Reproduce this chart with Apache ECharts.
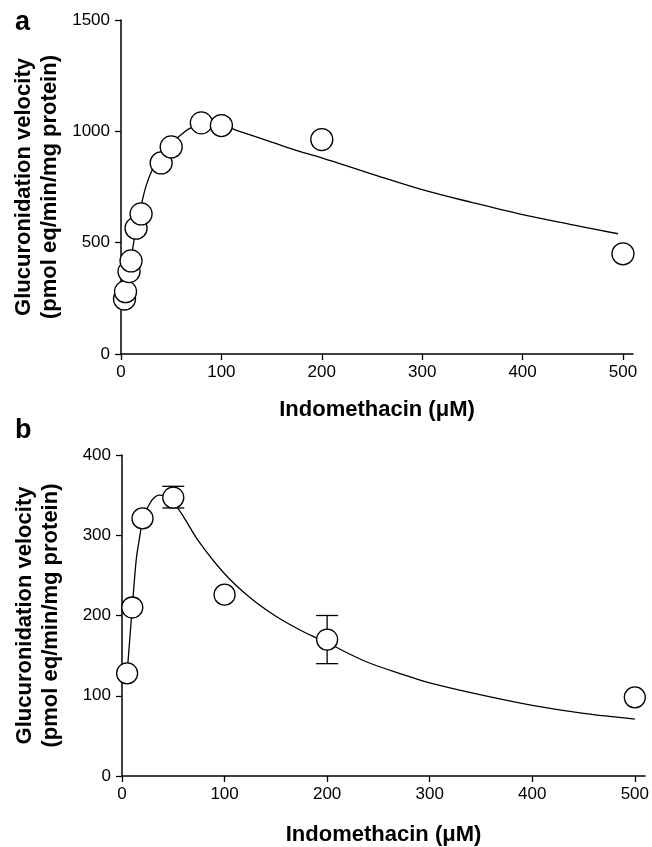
<!DOCTYPE html>
<html>
<head>
<meta charset="utf-8">
<script src="https://cdn.jsdelivr.net/npm/echarts@6/dist/echarts.min.js"></script>
<style>
html,body{margin:0;padding:0;background:#fff;}
#c{width:652px;height:847px;}
</style>
</head>
<body>
<div id="c"></div>
<script>
// ---- data ----
const xTicks = [0, 100, 200, 300, 400, 500];
const aTicksY = [0, 500, 1000, 1500];
const bTicksY = [0, 100, 200, 300, 400];

// panel a: observed points
const aConc = [3.5, 4.5, 8, 10, 15, 20, 40, 50, 80, 100, 200, 500];
const aVel  = [247, 280, 370, 418, 565, 629, 858, 930, 1038, 1026, 963, 450];
// panel a: fitted curve
const aFitX = [3, 5, 8, 10, 12, 15, 20, 25, 31, 40, 50, 58, 68, 80, 90, 100, 118, 150, 178, 200, 250, 300, 350, 400, 450, 495];
const aFitY = [205, 265, 365, 420, 483, 560, 665, 755, 825, 888, 945, 978, 1012, 1030, 1033, 1028, 1000, 952, 910, 881, 808, 738, 680, 626, 580, 540];

// panel b: observed points
const bConc = [5, 10, 20, 50, 100, 200, 500];
const bVel  = [128, 210, 321, 347, 226, 170, 98];
// panel b: error bars
const bErrX    = [50, 200];
const bErrLow  = [334, 140];
const bErrHigh = [361, 200];
// panel b: fitted curve
const bFitX = [5, 10, 14, 17, 20, 23, 26.5, 30, 36, 42, 50, 60, 75, 100, 125, 150, 175, 200, 237, 275, 300, 350, 400, 450, 500];
const bFitY = [128, 210, 271, 296, 318, 330, 338, 345, 350, 349, 341, 323, 292, 252, 222, 199, 181, 166, 143, 126, 116, 101, 88, 78, 71];

const xName = 'Indomethacin (\u03bcM)';
const yName = 'Glucuronidation velocity\n(pmol eq/min/mg protein)';

// ---- chart ----
const FONT = '"Liberation Sans", Arial, Helvetica, sans-serif';
const zip = (xs, ys) => xs.map((x, i) => [x, ys[i]]);
const plain = (v) => String(v);

function xAxis(gridIndex, gap) {
  return {
    type: 'value', gridIndex, min: 0, max: 510,
    axisLine: { show: true, onZero: false, lineStyle: { color: '#000', width: 1.5 } },
    axisTick: { show: true, length: 6, lineStyle: { color: '#000', width: 1.3 }, customValues: xTicks },
    axisLabel: { color: '#000', fontSize: 17, fontFamily: FONT, margin: 10, customValues: xTicks, formatter: plain },
    splitLine: { show: false },
    name: xName, nameLocation: 'middle', nameGap: gap, nameMoveOverlap: false,
    nameTextStyle: { color: '#000', fontSize: 22, fontWeight: 'bold', fontFamily: FONT }
  };
}
function yAxis(gridIndex, max, ticks) {
  return {
    type: 'value', gridIndex, min: 0, max,
    axisLine: { show: true, onZero: false, lineStyle: { color: '#000', width: 1.5 } },
    axisTick: { show: true, length: 6, lineStyle: { color: '#000', width: 1.3 }, customValues: ticks },
    axisLabel: { color: '#000', fontSize: 17, fontFamily: FONT, margin: 11, customValues: ticks, formatter: plain },
    splitLine: { show: false },
    name: yName, nameLocation: 'middle', nameRotate: 90, nameGap: 58, nameMoveOverlap: false,
    nameTextStyle: { color: '#000', fontSize: 22, fontWeight: 'bold', fontFamily: FONT, lineHeight: 26, align: 'center' }
  };
}

const circle = (size) => ({
  type: 'scatter', symbol: 'circle', symbolSize: size,
  itemStyle: { color: '#fff', borderColor: '#000', borderWidth: 1.3, opacity: 1 },
  emphasis: { disabled: true }, z: 5
});

const option = {
  animation: false,
  backgroundColor: '#fff',
  grid: [
    { left: 121, top: 20, width: 512, height: 334 },
    { left: 122, top: 455, width: 526, height: 327 }
  ],
  xAxis: [xAxis(0, 45), xAxis(1, 48)],
  yAxis: [yAxis(0, 1500, aTicksY), yAxis(1, 400, bTicksY)],
  graphic: [
    { type: 'text', left: 15, top: 9, style: { text: 'a', fontSize: 27, fontWeight: 'bold', fontFamily: FONT, fill: '#000' } },
    { type: 'text', left: 15, top: 417, style: { text: 'b', fontSize: 27, fontWeight: 'bold', fontFamily: FONT, fill: '#000' } }
  ],
  series: [
    {
      type: 'line', xAxisIndex: 0, yAxisIndex: 0, data: zip(aFitX, aFitY),
      smooth: 0.35, showSymbol: false, symbol: 'none',
      lineStyle: { color: '#000', width: 1.3 }, z: 2
    },
    Object.assign(circle(22), { xAxisIndex: 0, yAxisIndex: 0, data: zip(aConc, aVel) }),
    {
      type: 'line', xAxisIndex: 1, yAxisIndex: 1, data: zip(bFitX, bFitY),
      smooth: 0.35, showSymbol: false, symbol: 'none',
      lineStyle: { color: '#000', width: 1.3 }, z: 2
    },
    {
      type: 'custom', xAxisIndex: 1, yAxisIndex: 1,
      data: bErrX.map((x, i) => [x, bErrLow[i], bErrHigh[i]]),
      renderItem: function (params, api) {
        const x = api.value(0);
        const lo = api.coord([x, api.value(1)]);
        const hi = api.coord([x, api.value(2)]);
        const w = 11;
        const st = { stroke: '#000', lineWidth: 1.3 };
        return {
          type: 'group',
          children: [
            { type: 'line', shape: { x1: lo[0], y1: lo[1], x2: hi[0], y2: hi[1] }, style: st },
            { type: 'line', shape: { x1: lo[0] - w, y1: lo[1], x2: lo[0] + w, y2: lo[1] }, style: st },
            { type: 'line', shape: { x1: hi[0] - w, y1: hi[1], x2: hi[0] + w, y2: hi[1] }, style: st }
          ]
        };
      },
      z: 3
    },
    Object.assign(circle(21), { xAxisIndex: 1, yAxisIndex: 1, data: zip(bConc, bVel) })
  ]
};

const chart = echarts.init(document.getElementById('c'), null, { renderer: 'canvas' });
chart.setOption(option);
</script>
</body>
</html>
